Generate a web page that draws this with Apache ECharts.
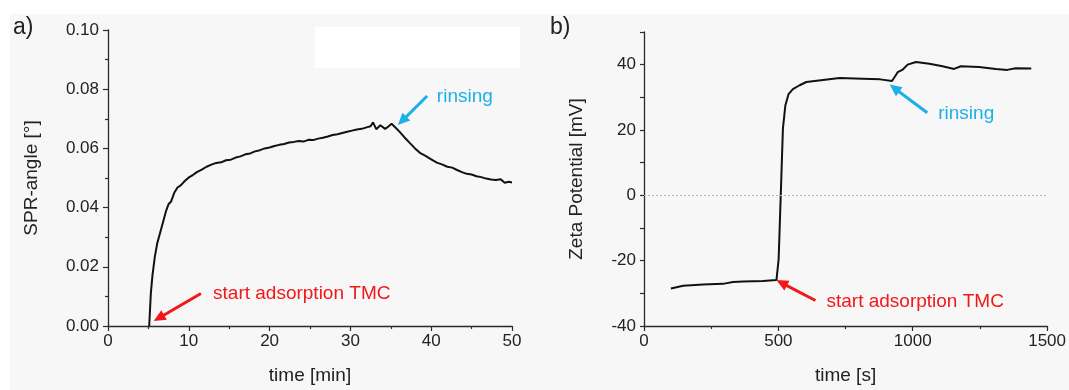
<!DOCTYPE html>
<html>
<head>
<meta charset="utf-8">
<script src="https://cdn.jsdelivr.net/npm/echarts@6/dist/echarts.min.js"></script>
<style>
  html, body { margin: 0; padding: 0; background: #fff; }
  #main { width: 1069px; height: 390px; }
</style>
</head>
<body>
<div id="main"></div>
<script>
// a) SPR angle vs time (min)
const sprTime = [5.1, 5.3, 5.5, 5.8, 6.1, 6.4, 6.8, 7.2, 7.5, 7.8, 8.2, 8.6, 9.0, 9.5, 10.0, 10.5, 11.0, 11.6, 12.2, 12.8,
  13.4, 14.0, 14.6, 15.2, 15.8, 16.4, 17.0, 17.6, 18.2, 18.8, 19.4, 20.0, 20.6, 21.2, 21.8, 22.4, 23.0, 23.6, 24.2, 24.8,
  25.4, 26.0, 26.6, 27.2, 27.8, 28.4, 29.0, 29.6, 30.2, 30.8, 31.4, 32.0, 32.5, 32.8, 33.2, 33.7, 34.3, 34.7, 35.1, 35.6,
  36.1, 36.7, 37.4, 38.0, 38.6, 39.3, 40.0, 40.7, 41.4, 42.0, 42.6, 43.2, 43.8, 44.4, 45.0, 45.6, 46.2, 46.8, 47.4, 48.0,
  48.6, 49.1, 49.6, 50.0]
const sprAngle = [0, 0.011, 0.017, 0.0235, 0.028, 0.031, 0.035, 0.039, 0.0412, 0.042, 0.045, 0.0468, 0.0475, 0.049, 0.0502, 0.051, 0.052, 0.0528, 0.0538, 0.0545,
  0.0551, 0.0553, 0.056, 0.0562, 0.0569, 0.0573, 0.058, 0.0583, 0.059, 0.0594, 0.06, 0.0603, 0.0608, 0.0612, 0.0615, 0.062, 0.0622, 0.0625, 0.0623, 0.0629,
  0.0628, 0.0633, 0.0636, 0.064, 0.0645, 0.0648, 0.0652, 0.0656, 0.066, 0.0664, 0.0666, 0.0671, 0.0675, 0.0688, 0.0665, 0.0678, 0.0666, 0.0674, 0.0683, 0.067,
  0.0656, 0.0637, 0.0617, 0.06, 0.0585, 0.0575, 0.0563, 0.0552, 0.0545, 0.0538, 0.0535, 0.0527, 0.052, 0.0514, 0.0512, 0.0506, 0.0503, 0.0498, 0.0495, 0.0493,
  0.0496, 0.0484, 0.0487, 0.0485]

// b) zeta potential vs time (s)
const zetaTime = [100, 146, 220, 294, 331, 369, 443, 493, 501, 507, 511, 517, 526, 538, 554, 579, 604, 666, 728, 814,
  879, 884, 923, 944, 963, 981, 1012, 1062, 1111, 1154, 1179, 1247, 1309, 1352, 1383, 1441]
const zetaPot = [-28.5, -27.7, -27.3, -27.1, -26.5, -26.4, -26.2, -25.9, -19.6, -4.6, 5.4, 20.5, 27.5, 31, 32.5, 33.7, 34.7, 35.3, 35.9, 35.7,
  35.5, 35.0, 35.0, 37.7, 38.5, 40.0, 40.8, 40.3, 39.5, 38.7, 39.5, 39.3, 38.7, 38.4, 38.9, 38.8]

// annotations: arrow from -> to, text anchor (left, middle) in data units
const notesA = [
  { text: 'rinsing', color: '#1cb0e8', from: [39.5, 0.0777], to: [36.4, 0.0693], at: [40.7, 0.0773] },
  { text: 'start adsorption TMC', color: '#f21818', from: [11.5, 0.011], to: [6.3, 0.0027], at: [13.0, 0.011] }
]
const notesB = [
  { text: 'rinsing', color: '#1cb0e8', from: [1054, 25.3], to: [932, 32.8], at: [1095, 25.0] },
  { text: 'start adsorption TMC', color: '#f21818', from: [638, -32.2], to: [512, -26.8], at: [679, -32.5] }
]

const font = 'Liberation Sans, Arial, Helvetica, sans-serif'
const axisCol = '#2a2a2a'

function arrows(notes) {
    return notes.map(n => [
        { coord: n.from, symbol: 'none', lineStyle: { color: n.color, width: 3, type: 'solid' } },
        { coord: n.to, symbol: 'triangle', symbolSize: [11, 12] }
    ])
}

function xAxisOf(gridIndex, min, max, interval, name) {
    return {
        type: 'value', gridIndex: gridIndex, min: min, max: max, interval: interval,
        name: name, nameLocation: 'middle', nameGap: 40,
        nameTextStyle: { fontFamily: font, fontSize: 19, color: '#222' },
        axisLine: { show: true, onZero: false, lineStyle: { color: axisCol, width: 1.3 } },
        axisTick: { show: true, inside: false, length: 5, lineStyle: { color: axisCol, width: 1.2 } },
        minorTick: { show: true, splitNumber: 2, length: 3, lineStyle: { color: axisCol, width: 1.2 } },
        axisLabel: { fontFamily: font, fontSize: 17, color: '#222', margin: 7, formatter: v => String(v) },
        splitLine: { show: false }
    }
}

let myChart = echarts.init(document.getElementById('main'))
let option = {
    animation: false,
    backgroundColor: '#fff',
    grid: [
        { left: 108, top: 30, width: 404, height: 300 },
        { left: 644, top: 32, width: 404, height: 299 }
    ],
    xAxis: [
        xAxisOf(0, 0, 50, 10, 'time [min]'),
        xAxisOf(1, 0, 1500, 500, 'time [s]')
    ],
    yAxis: [
        {
            type: 'value', gridIndex: 0, min: 0, max: 0.1, interval: 0.02,
            name: 'SPR-angle [°]', nameLocation: 'middle', nameGap: 67,
            nameTextStyle: { fontFamily: font, fontSize: 19, color: '#222' },
            axisLine: { show: true, lineStyle: { color: axisCol, width: 1.3 } },
            axisTick: { show: true, inside: false, length: 5, lineStyle: { color: axisCol, width: 1.2 } },
            minorTick: { show: true, splitNumber: 2, length: 3, lineStyle: { color: axisCol, width: 1.2 } },
            axisLabel: { fontFamily: font, fontSize: 17, color: '#222', margin: 9, formatter: v => v.toFixed(2) },
            splitLine: { show: false }
        },
        {
            type: 'value', gridIndex: 1, min: -40, max: 50, interval: 10,
            name: 'Zeta Potential [mV]', nameLocation: 'middle', nameGap: 58,
            nameTextStyle: { fontFamily: font, fontSize: 19, color: '#222' },
            axisLine: { show: true, onZero: false, lineStyle: { color: axisCol, width: 1.3 } },
            axisTick: { show: true, inside: false, length: 4, lineStyle: { color: axisCol, width: 1.2 } },
            axisLabel: { fontFamily: font, fontSize: 17, color: '#222', margin: 8,
                formatter: v => (Math.round(v) % 20 === 0 ? String(Math.round(v)) : '') },
            splitLine: { show: false }
        }
    ],
    series: [
        {
            type: 'line', xAxisIndex: 0, yAxisIndex: 0,
            data: sprTime.map((t, i) => [t, sprAngle[i]]),
            showSymbol: false,
            lineStyle: { color: '#111', width: 2 },
            markLine: { silent: true, animation: false, symbol: ['none', 'none'], label: { show: false }, data: arrows(notesA) }
        },
        {
            type: 'line', xAxisIndex: 1, yAxisIndex: 1,
            data: zetaTime.map((t, i) => [t, zetaPot[i]]),
            showSymbol: false,
            lineStyle: { color: '#111', width: 2 },
            markLine: {
                silent: true, animation: false, symbol: ['none', 'none'], label: { show: false },
                data: [
                    { yAxis: 0, lineStyle: { color: '#b5b5b5', width: 1, type: [2, 2] } }
                ].concat(arrows(notesB))
            }
        }
    ]
}
myChart.setOption(option)

// texts and panel decoration placed after axes exist
let graphics = [
    { type: 'rect', z: -10, silent: true, shape: { x: 10, y: 14, width: 1069, height: 390 }, style: { fill: '#f7f7f7' } },
    { type: 'rect', z: -9, silent: true, shape: { x: 315, y: 27, width: 205, height: 41 }, style: { fill: '#fff' } },
    { type: 'text', left: 13, top: 16, style: { text: 'a)', font: '23px ' + font, fill: '#222' } },
    { type: 'text', left: 550, top: 16, style: { text: 'b)', font: '23px ' + font, fill: '#222' } }
]
function addTexts(notes, gridIndex) {
    notes.forEach(n => {
        let p = myChart.convertToPixel({ gridIndex: gridIndex }, n.at)
        graphics.push({
            type: 'text', x: p[0], y: p[1], silent: true,
            style: { text: n.text, font: '19px ' + font, fill: n.color, verticalAlign: 'middle', align: 'left' }
        })
    })
}
addTexts(notesA, 0)
addTexts(notesB, 1)
myChart.setOption({ graphic: graphics })
</script>
</body>
</html>
